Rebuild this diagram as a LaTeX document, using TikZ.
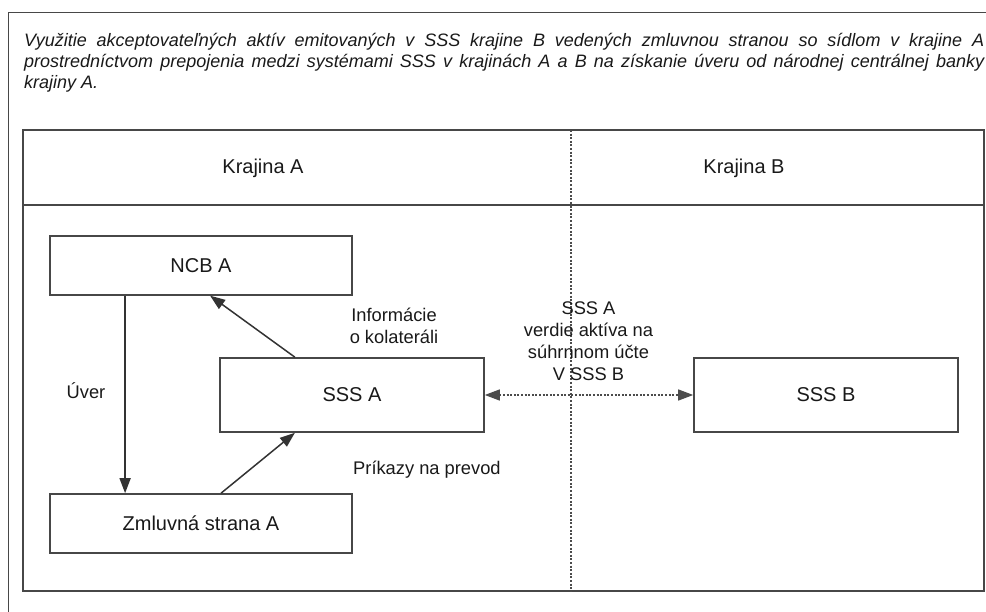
\documentclass[tikz,border=0pt]{standalone}
\usepackage{fontspec}
\setmainfont{Liberation Sans}
\usetikzlibrary{calc,arrows.meta}

\begin{document}
\begin{tikzpicture}[x=1pt,y=-1pt,
  frame/.style={draw=black!72, line width=1.6pt},
  box/.style={draw=black!72, line width=1.6pt, inner sep=0pt,
    minimum width=302pt, minimum height=59pt, text=black!90,
    font=\fontsize{20}{24}\selectfont},
  lbl/.style={align=center, inner sep=0pt, text=black!90,
    font=\fontsize{18.3}{22}\selectfont},
  arr/.style={draw=black!80, line width=1.5pt, -{Triangle[length=15pt,width=11pt]}},
  dots/.style={draw=black!70, line width=1.2pt, dash pattern=on 2pt off 1.6pt}]
  \useasboundingbox (0,0) rectangle (986,612);
  % outer frame runs off the page on the right and at the bottom
  \draw[frame] (8.5,612) -- (8.5,12.7) -- (986,12.7);
  \node[anchor=north west, inner sep=0pt, text width=960pt, align=justify,
    text=black!90, font=\itshape\fontsize{18}{21}\selectfont]
    (title) at (24,33) {Využitie akceptovateľných aktív emitovaných v SSS krajine B vedených zmluvnou stranou so sídlom v krajine A\linebreak
    prostredníctvom prepojenia medzi systémami SSS v krajinách A a B na získanie úveru od národnej centrálnej banky\linebreak
    krajiny A.};

  % table with the two countries
  \draw[frame] (23,130) rectangle (984,591);
  \draw[frame] (23,205) -- (984,205);
  \draw[dots] (571,130) -- (571,591);
  \node[lbl, anchor=base, font=\fontsize{20}{24}\selectfont] (kA) at (263,174) {Krajina A};
  \node[lbl, anchor=base, font=\fontsize{20}{24}\selectfont] (kB) at (744,174) {Krajina B};

  % boxes
  \node[box] (ncb) at (201,265.4) {NCB A};
  \node[box] (zml) at (201,523.5) {Zmluvná strana A};
  \node[box, minimum width=264pt, minimum height=74pt] (sssa) at (352,395) {SSS A};
  \node[box, minimum width=264pt, minimum height=74pt] (sssb) at (826,395) {SSS B};

  % connectors
  \draw[arr] ($(ncb.south west)!.25!(ncb.south east)$) -- ($(zml.north west)!.25!(zml.north east)$);
  \draw[arr] ($(sssa.north west)!.285!(sssa.north east)$) -- ($(ncb.south west)!.53!(ncb.south east)$);
  \draw[arr] ($(zml.north west)!.566!(zml.north east)$) -- ($(sssa.south west)!.285!(sssa.south east)$);
  \draw[dots, line width=1.4pt, {Triangle[length=15pt,width=11pt]}-{Triangle[length=15pt,width=11pt]}] (sssa.east) -- (sssb.west);

  % labels (base = last line)
  \node[lbl, anchor=base] (uver) at (86,399) {Úver};
  \node[lbl, anchor=base] (info) at (394,344) {Informácie\\o kolateráli};
  \node[lbl, anchor=base west] (prik) at (353,475) {Príkazy na prevod};
  \node[lbl, anchor=base] (ucet) at (588.5,380.5) {SSS A\\verdie aktíva na\\súhrnnom účte\\V SSS B};
\end{tikzpicture}
\end{document}
